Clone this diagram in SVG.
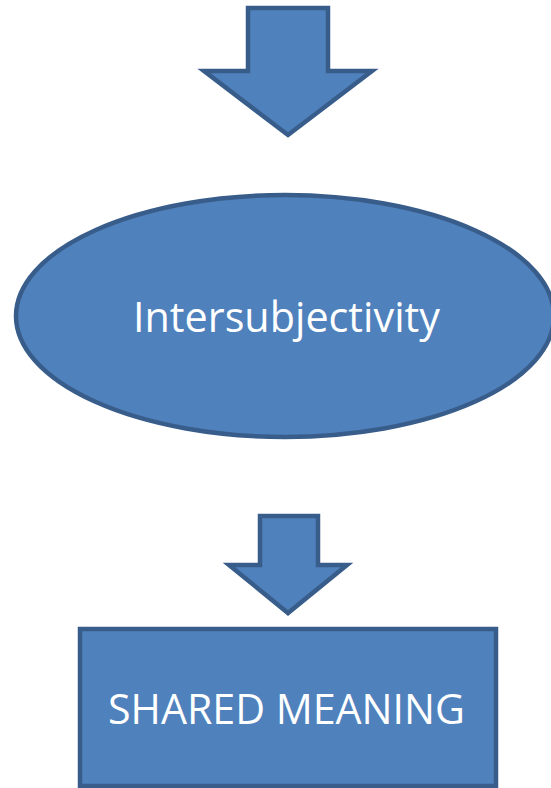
<svg xmlns="http://www.w3.org/2000/svg" width="551" height="788" viewBox="0 0 551 788">
  <style>
    .shape { fill: #4F81BD; stroke: #385D8A; stroke-width: 4.5; stroke-linejoin: miter; }
    .label { fill: #FFFFFF; font-family: "Open Sans", "Noto Sans", "Liberation Sans", sans-serif; font-size: 42px; text-anchor: middle; }
  </style>
  <g id="connectors">
    <path id="arrow-top" class="shape" d="M248,8 H328 V71 H372 L288,135 L204,71 H248 Z"/>
    <path id="arrow-mid" class="shape" d="M260,516 H318 V565 H347 L288,613 L229,565 H260 Z"/>
  </g>
  <g id="node-intersubjectivity">
    <ellipse class="shape" cx="285" cy="316" rx="269" ry="121"/>
    <text class="label" x="286.5" y="332" textLength="307" lengthAdjust="spacingAndGlyphs">Intersubjectivity</text>
  </g>
  <g id="node-shared-meaning">
    <rect class="shape" x="80" y="629" width="416" height="157"/>
    <text class="label" x="286.5" y="724" textLength="357" lengthAdjust="spacingAndGlyphs">SHARED MEANING</text>
  </g>
</svg>
